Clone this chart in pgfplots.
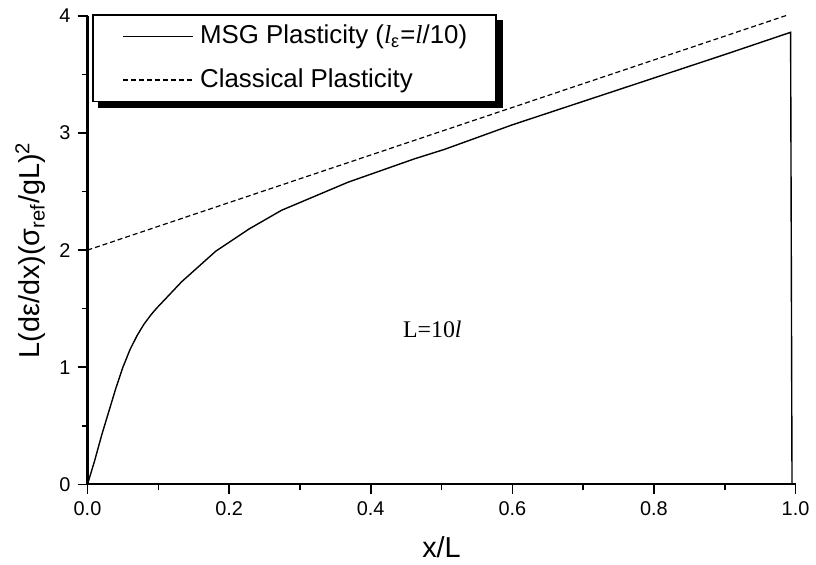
\documentclass[border=0pt]{standalone}
\usepackage{pgfplots}
\pgfplotsset{compat=1.18}
\usepackage{fontspec}
\setmainfont{Liberation Sans}
\newfontfamily\serif{Liberation Serif}
\usetikzlibrary{backgrounds}

\begin{document}
\begin{tikzpicture}
\begin{axis}[
  scale only axis,
  width=356pt, height=235.5pt,
  xmin=0, xmax=1, ymin=0, ymax=4,
  axis lines=left,
  axis line style={line width=1.1pt, -},
  xtick={0,0.2,...,1.0}, ytick={0,1,2,3,4},
  minor x tick num=1, minor y tick num=1,
  tick align=outside,
  major tick length=5pt, minor tick length=3pt,
  tick style={line width=0.8pt, black},
  xticklabel style={/pgf/number format/.cd, fixed, fixed zerofill, precision=1},
  /pgf/number format/assume math mode=true,
  ticklabel style={font=\fontsize{10}{12}\selectfont},
  xlabel={x/L}, ylabel={L(dε/dx)(σ\textsubscript{ref}/gL)\textsuperscript{2}},
  label style={font=\fontsize{14.5}{17}\selectfont},
  xlabel style={yshift=-4pt},
  clip=false,
  legend cell align=left,
  legend style={name=leg, at={(rel axis cs:0.007,1.004)}, anchor=north west,
    draw=black, line width=0.9pt, fill=white,
    font=\fontsize{13}{15}\selectfont,
    nodes={inner sep=0pt, text height=9.5pt, text depth=2pt},
    inner xsep=14.5pt, inner ysep=5pt, row sep=10.5pt, column sep=3.5pt},
  legend image code/.code={\draw[#1] (0cm,0cm) -- (35pt,0cm);},
]
\addplot[black, line width=0.7pt] coordinates {
 (0,0) (0.003,0.06) (0.01,0.2) (0.02,0.42) (0.03,0.62) (0.04,0.82)
 (0.05,1.0) (0.06,1.15) (0.07,1.27) (0.08,1.37) (0.09,1.45) (0.097,1.50)
 (0.133,1.73) (0.181,1.99) (0.228,2.18) (0.274,2.34) (0.321,2.46)
 (0.368,2.58) (0.415,2.68) (0.462,2.78) (0.504,2.86) (0.6,3.07)
 (0.7,3.27) (0.8,3.47) (0.9,3.67) (0.993,3.86) (0.995,0)};
\addlegendentry{MSG Plasticity ({\serif\itshape l}\textsubscript{ε}={\serif\itshape l}/10)}
\addplot[black, line width=0.6pt, dash pattern=on 2.5pt off 1.5pt] coordinates {
 (0,2.0) (0.99,4.01)};
\addlegendentry{Classical Plasticity}
\node[font=\serif\fontsize{12}{14}\selectfont] at (axis cs:0.487,1.32) {L=10{\itshape l}};
\path (rel axis cs:-0.1236,-0.172) (rel axis cs:1.0225,1.034);
\end{axis}
\begin{scope}[on background layer]
\fill[black] ([shift={(3pt,-3pt)}]leg.south west) rectangle ([shift={(3pt,-3pt)}]leg.north east);
\end{scope}
\end{tikzpicture}
\end{document}
